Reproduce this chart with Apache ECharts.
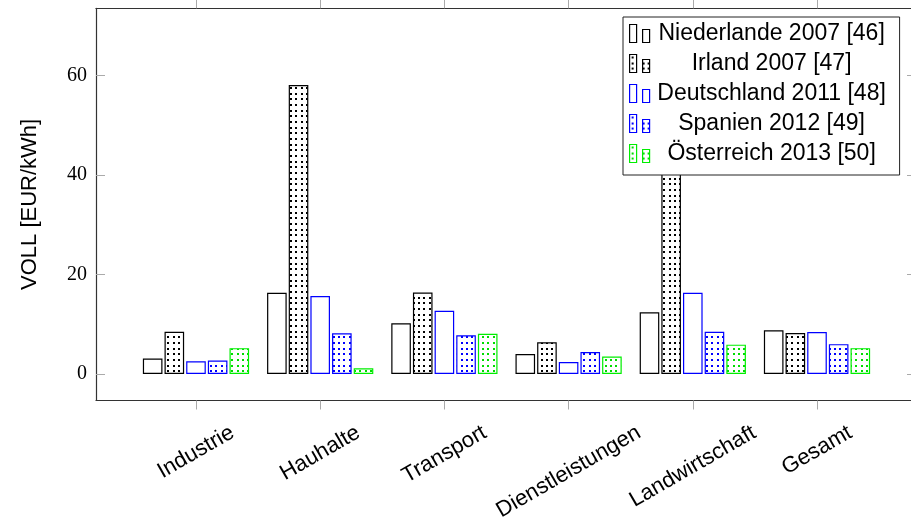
<!DOCTYPE html>
<html><head><meta charset="utf-8">
<script src="https://cdn.jsdelivr.net/npm/echarts@6/dist/echarts.min.js"></script>
<style>html,body{margin:0;padding:0;background:#fff}#c{width:911px;height:524px}</style>
</head><body><div id="c"></div>
<script>
// ---- data ----
const categories = ['Industrie', 'Hauhalte', 'Transport', 'Dienstleistungen', 'Landwirtschaft', 'Gesamt'];
const seriesNames = ['Niederlande 2007 [46]', 'Irland 2007 [47]', 'Deutschland 2011 [48]', 'Spanien 2012 [49]', 'Österreich 2013 [50]'];
const niederlande = [3.1, 16.35, 10.2, 4.0, 12.4, 8.8];
const irland = [8.5, 58.1, 16.4, 6.4, 68.0, 8.25];
const deutschland = [2.55, 15.7, 12.7, 2.4, 16.35, 8.45];
const spanien = [2.7, 8.2, 7.8, 4.4, 8.5, 6.0];
const oesterreich = [5.2, 1.15, 8.1, 3.5, 5.9, 5.2];
const yTicks = [0, 20, 40, 60];
const yMin = -5.33, yMax = 73.55;
const xMin = -0.805, xMax = 5.797;
const xTicks = categories.map((_, i) => i);

// ---- styling helpers ----
function dots(color) {
  const c = document.createElement('canvas');
  c.width = 16; c.height = 17;
  const g = c.getContext('2d');
  g.fillStyle = '#fff'; g.fillRect(0, 0, 16, 17);
  g.fillStyle = color;
  [2, 7, 13].forEach(x => [2, 8, 13].forEach(y => {
    g.fillRect(x, y, 2, 2);
  }));
  return { image: c, repeat: 'repeat' };
}
const styles = [
  { border: '#000', fill: '#fff' },
  { border: '#000', fill: dots('#000') },
  { border: '#0000ff', fill: '#fff' },
  { border: '#0000ff', fill: dots('#0000ff') },
  { border: '#00ee00', fill: dots('#00dd00') }
];
const values = [niederlande, irland, deutschland, spanien, oesterreich];

const axisLine = { show: true, onZero: false, lineStyle: { color: '#333', width: 1.2 } };
const tickStyle = { color: '#aaa', width: 1 };

// x label placement: each label centred under its tick, rotated box top at a fixed height
const LAB_FS = 22, LAB_LH = 21, ROT = 30;
const th = ROT * Math.PI / 180;
const AXIS_Y = 400.5, LAB_TOP = 422;
const mc = document.createElement('canvas').getContext('2d');
mc.font = LAB_FS + 'px "Liberation Sans"';
const labelAxes = categories.map((c, i) => {
  const w = mc.measureText(c).width;
  const cy = LAB_TOP + (w * Math.sin(th) + LAB_LH * Math.cos(th)) / 2;
  return {
    type: 'value', min: xMin, max: xMax, position: 'bottom',
    axisLine: { show: false }, axisTick: { show: false }, splitLine: { show: false },
    axisLabel: {
      customValues: [i], rotate: ROT, align: 'center', verticalAlign: 'middle',
      margin: cy - AXIS_Y, showMinLabel: true, showMaxLabel: true,
      fontSize: LAB_FS, lineHeight: LAB_LH, fontFamily: 'Liberation Sans', color: '#000',
      formatter: () => c
    }
  };
});

const chart = echarts.init(document.getElementById('c'), null, { renderer: 'canvas' });
chart.setOption({
  animation: false,
  backgroundColor: '#fff',
  grid: { left: 96, right: -5, top: 8.3, bottom: 123.5, containLabel: false, outerBoundsMode: 'none' },
  legend: {
    orient: 'vertical', left: 623, top: 17,
    padding: [5, 11, 10, 6], itemGap: 7, itemWidth: 20, itemHeight: 18,
    icon: 'path://M0,0h7v18h-7zM13,5h7v13h-7z',
    backgroundColor: '#fff', borderColor: '#222', borderWidth: 1,
    itemStyle: { borderWidth: 1.2 },
    selectedMode: false,
    formatter: n => '{t|' + n + '}',
    textStyle: { rich: { t: { width: 234, align: 'center', fontSize: 23, lineHeight: 23, fontFamily: 'Liberation Sans', color: '#000' } } },
    data: seriesNames
  },
  xAxis: [{
    type: 'value', min: xMin, max: xMax, position: 'bottom',
    axisLine: axisLine,
    axisTick: { show: true, inside: false, length: 9, customValues: xTicks, lineStyle: tickStyle },
    axisLabel: { show: false },
    splitLine: { show: false }
  }, {
    type: 'value', min: xMin, max: xMax, position: 'top',
    axisLine: axisLine,
    axisTick: { show: true, inside: false, length: 9, customValues: xTicks, lineStyle: tickStyle },
    axisLabel: { show: false },
    splitLine: { show: false }
  }].concat(labelAxes),
  yAxis: [{
    type: 'value', min: yMin, max: yMax, position: 'left',
    name: 'VOLL [EUR/kWh]', nameLocation: 'middle', nameGap: 55, nameRotate: 90,
    nameTextStyle: { fontSize: 22, fontFamily: 'Liberation Sans', color: '#000' },
    axisLine: axisLine,
    axisTick: { show: true, inside: true, length: 9, customValues: yTicks, lineStyle: tickStyle },
    axisLabel: { customValues: yTicks, margin: 9, fontSize: 20, fontFamily: 'Liberation Serif', color: '#000', showMinLabel: true, showMaxLabel: true },
    splitLine: { show: false }
  }, {
    type: 'value', min: yMin, max: yMax, position: 'right',
    axisLine: axisLine,
    axisTick: { show: true, inside: true, length: 9, customValues: yTicks, lineStyle: tickStyle },
    axisLabel: { show: false },
    splitLine: { show: false }
  }],
  series: seriesNames.map((name, s) => ({
    name: name, type: 'bar', xAxisIndex: 0, yAxisIndex: 0,
    barWidth: 19.6, barGap: '10.5%',
    itemStyle: { color: styles[s].fill, borderColor: styles[s].border, borderWidth: 1.2 },
    emphasis: { disabled: true },
    data: values[s].map((v, i) => [i, v])
  }))
});
</script>
</body></html>
